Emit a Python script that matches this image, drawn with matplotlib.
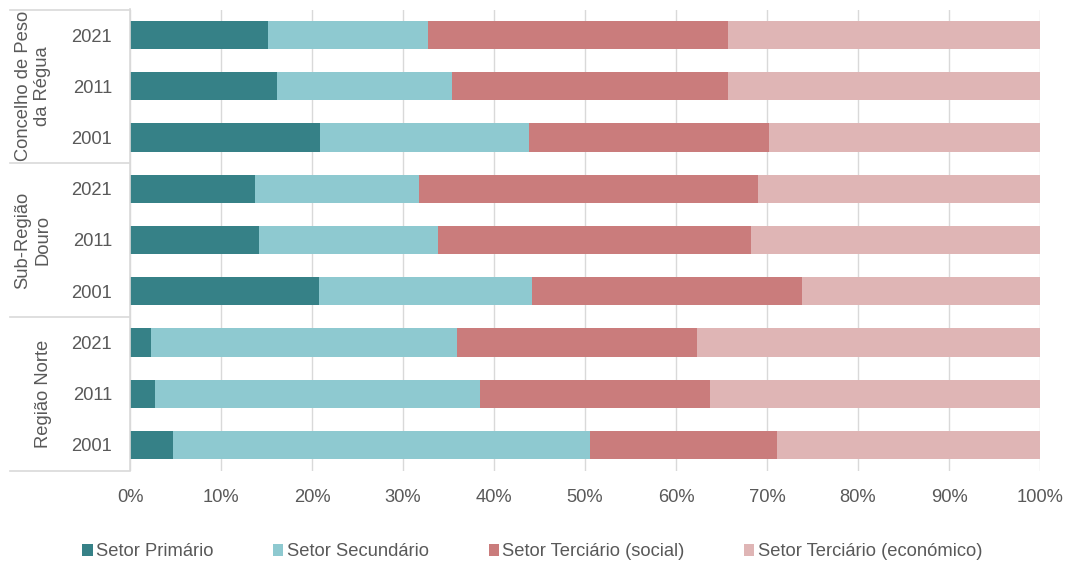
import matplotlib
matplotlib.use('Agg')
import matplotlib.pyplot as plt
from matplotlib.lines import Line2D
from matplotlib.ticker import FuncFormatter
import numpy as np

plt.rcParams['font.family'] = ['Liberation Sans', 'DejaVu Sans']

# dados (% do emprego por setor), de cima para baixo
grupos = ['Concelho de Peso\nda Régua', 'Sub-Região\nDouro', 'Região Norte']
anos = ['2021', '2011', '2001']
setores = ['Setor Primário', 'Setor Secundário',
           'Setor Terciário (social)', 'Setor Terciário (económico)']
primario = [15.2, 16.2, 20.9, 13.7, 14.2, 20.8, 2.3, 2.8, 4.7]
secundario = [17.6, 19.2, 22.9, 18.1, 19.7, 23.4, 33.6, 35.7, 45.9]
terc_social = [32.9, 30.3, 26.4, 37.2, 34.3, 29.7, 26.4, 25.2, 20.5]
terc_economico = [34.3, 34.3, 29.8, 31.0, 31.8, 26.1, 37.7, 36.3, 28.9]

cores = ['#368187', '#8ec9d0', '#ca7c7c', '#dfb5b5']
cinza = '#595959'
fs = 13.2

W, H = 1065, 562
fig = plt.figure(figsize=(W / 100, H / 100), dpi=100)
ax = fig.add_axes([130 / W, 1 - 470.5 / H, 910 / W, 461 / H])

series = [primario, secundario, terc_social, terc_economico]
y = np.arange(len(primario))
esq = np.zeros(len(primario))
barras = []
for vals, cor, nome in zip(series, cores, setores):
    b = ax.barh(y, vals, left=esq, height=0.55, color=cor, label=nome, linewidth=0)
    barras.append(b)
    esq += np.array(vals)

ax.set_ylim(len(y) - 0.5, -0.5)
ax.set_xlim(0, 100)
ax.set_xticks(np.arange(0, 101, 10))
ax.xaxis.set_major_formatter(FuncFormatter(lambda v, p: '%d%%' % v))
ax.set_yticks(y)
ax.set_yticklabels(anos * len(grupos))
ax.tick_params(axis='y', length=0, pad=13, labelsize=fs, labelcolor=cinza)
ax.tick_params(axis='x', length=0, pad=13, labelsize=fs, labelcolor=cinza)
ax.grid(axis='x', color='#d9d9d9', linewidth=1)
ax.set_axisbelow(True)
for s in ['top', 'right', 'bottom']:
    ax.spines[s].set_visible(False)
ax.spines['left'].set_color('#d9d9d9')
ax.spines['left'].set_linewidth(1.2)

# eixo de categorias em dois níveis
topo = 1 - 9.5 / H
base = 1 - 470.5 / H
passo = (topo - base) / len(grupos)
for i in range(len(grupos) + 1):
    yy = topo - i * passo
    fig.add_artist(Line2D([10 / W, 130 / W], [yy, yy], color='#d9d9d9', lw=1.2))
for i, g in enumerate(grupos):
    yc = topo - (i + 0.5) * passo
    xc = 33 / W if '\n' in g else 44 / W
    fig.text(xc, yc, g, rotation=90, ha='center', va='center', fontsize=fs,
             color=cinza, linespacing=1.2, multialignment='center')

fig.legend(handles=barras, labels=setores, loc='center', bbox_to_anchor=(0.5, 1 - 552 / H),
           ncol=4, frameon=False, fontsize=fs, labelcolor=cinza,
           handlelength=0.55, handleheight=0.55, handletextpad=0.2, columnspacing=3.25)

fig.savefig('out.png', dpi=100)
